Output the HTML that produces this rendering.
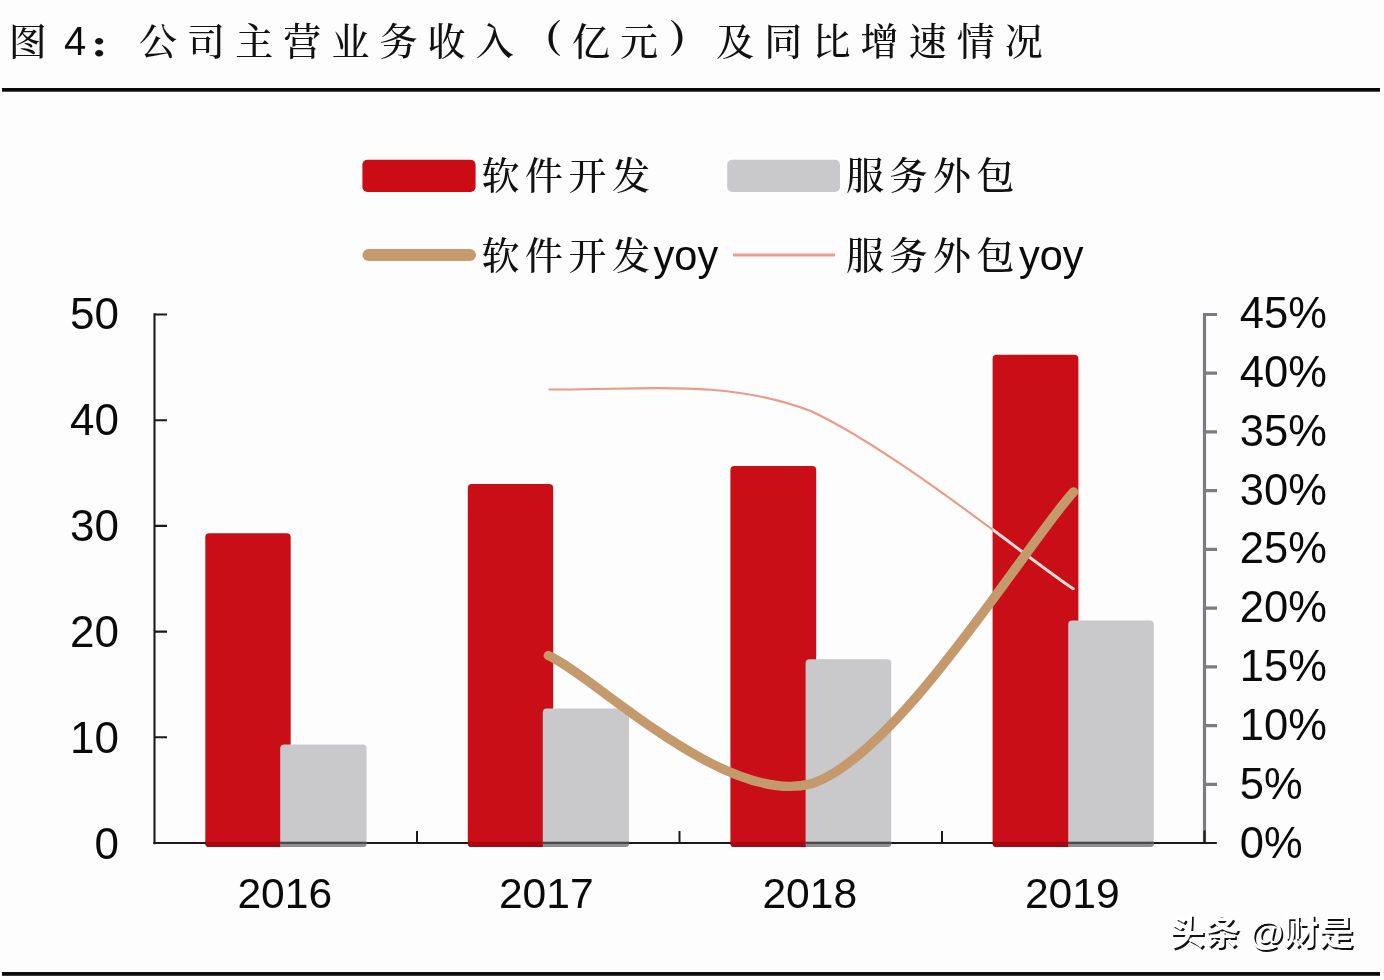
<!DOCTYPE html>
<html lang="zh-CN">
<head>
<meta charset="utf-8">
<title>图 4：公司主营业务收入（亿元）及同比增速情况</title>
<style>
html,body{margin:0;padding:0;background:#fefdfe;}
body{width:1384px;height:980px;overflow:hidden;position:relative;}
svg{position:absolute;left:0;top:0;display:block;}
.cjk{font-family:"Liberation Serif","Noto Serif CJK SC",serif;font-weight:500;fill:#111;}
.lat{font-family:"Liberation Sans","Noto Sans CJK SC",sans-serif;fill:#0a0a0a;}
.ax{font-family:"Liberation Sans",sans-serif;font-size:44px;fill:#0a0a0a;}
</style>
</head>
<body>
<svg width="1384" height="980" viewBox="0 0 1384 980">
<defs>
<clipPath id="redclip"><rect x="992.6" y="354.7" width="85.8" height="492"/></clipPath>
</defs>
<rect x="0" y="0" width="1384" height="980" fill="#fefdfe"/>

<!-- title -->
<g id="title">
<text class="cjk" x="8.7" y="54.7" font-size="38">图</text>
<text class="lat" x="63.9" y="55" font-size="40">4</text>
<text class="cjk" transform="translate(87.8,57.4) scale(1,0.8)" font-size="40" style="font-weight:900">：</text>
<text class="cjk" x="139" y="54.7" font-size="38" letter-spacing="10.1">公司主营业务收入<tspan style="font-weight:900" dy="-3" dx="0.5">（</tspan><tspan dy="3" dx="-0.5">亿元</tspan><tspan style="font-weight:900" dy="-3" dx="0.5">）</tspan><tspan dy="3" dx="-0.5">及同比增速情况</tspan></text>
</g>
<rect x="2" y="88" width="1378" height="3.7" fill="#0a0a0a"/>
<rect x="2" y="972" width="1378" height="3.8" fill="#0a0a0a"/>

<!-- legend -->
<g id="legend">
<rect x="362.4" y="159.7" width="113.2" height="32.2" rx="5" fill="#cb0c15"/>
<text class="cjk" x="481.5" y="188.5" font-size="38" letter-spacing="5.5">软件开发</text>
<rect x="727.2" y="159.7" width="112.8" height="32.2" rx="5" fill="#c9c8ca"/>
<text class="cjk" x="846" y="188.5" font-size="38" letter-spacing="5.5">服务外包</text>
<line x1="368.5" y1="255" x2="470" y2="255" stroke="#c59b6d" stroke-width="12" stroke-linecap="round"/>
<text class="cjk" x="481.5" y="268.5" font-size="38" letter-spacing="5.5">软件开发</text>
<text class="lat" font-size="41.5" transform="translate(653.6,269.6) scale(1,1.045)">yoy</text>
<line x1="733" y1="255" x2="835" y2="255" stroke="#ee9e88" stroke-width="2.8"/>
<text class="cjk" x="846" y="268.5" font-size="38" letter-spacing="5.5">服务外包</text>
<text class="lat" font-size="41.5" transform="translate(1019,269.6) scale(1,1.045)">yoy</text>
</g>

<!-- bars -->
<g id="bars">
<rect x="205.3" y="533.2" width="85.4" height="313.8" rx="4" fill="#c90e17"/>
<rect x="280.2" y="744.5" width="86.4" height="102.5" rx="4" fill="#c9c8ca"/>
<rect x="467.8" y="483.9" width="85.4" height="363.1" rx="4" fill="#c90e17"/>
<rect x="542.8" y="708.5" width="86.2" height="138.5" rx="4" fill="#c9c8ca"/>
<rect x="730.4" y="465.9" width="85.8" height="381.1" rx="4" fill="#c90e17"/>
<rect x="805.6" y="659.3" width="85.6" height="187.7" rx="4" fill="#c9c8ca"/>
<rect x="992.6" y="354.7" width="85.8" height="492.3" rx="4" fill="#c90e17"/>
<rect x="1068.2" y="620.6" width="85.6" height="226.4" rx="4" fill="#c9c8ca"/>
</g>

<!-- axes -->
<g id="raxis" stroke="#7b7b80" stroke-width="3.2" fill="none">
<path d="M1204.5 312.9V843.0"/>
<path d="M1204.5 314.5h12.5M1204.5 373.2h12.5M1204.5 431.9h12.5M1204.5 490.7h12.5M1204.5 549.4h12.5M1204.5 608.1h12.5M1204.5 666.8h12.5M1204.5 725.6h12.5M1204.5 784.3h12.5"/>
</g>
<g id="axes" stroke="#1a1a1a" stroke-width="2.1" fill="none">
<path d="M154.5 313.3V844.2"/>
<path d="M153.3 843.0H1216.8"/>
<path d="M154.5 314.5h12.5M154.5 420.2h12.5M154.5 525.9h12.5M154.5 631.6h12.5M154.5 737.3h12.5M154.5 843.0h12.5"/>
<path d="M417 843.0v-12M679.5 843.0v-12M942 843.0v-12M1204.5 843.0v-12.5" stroke-width="2"/>
</g>
<g id="strips">
<path d="M205.3 841.8H280.5V847.0H208.8Q205.3 847.0 205.3 843.5Z" fill="#a3090f"/>
<path d="M280.2 841.8H366.6V843.5Q366.6 847.0 363.1 847.0H280.2Z" fill="#8f8f92"/>
<rect x="280.2" y="841.8" width="86.4" height="2.2" fill="#4a4a4c"/>
<path d="M467.8 841.8H543.0999999999999V847.0H471.3Q467.8 847.0 467.8 843.5Z" fill="#a3090f"/>
<path d="M542.8 841.8H629.0V843.5Q629.0 847.0 625.5 847.0H542.8Z" fill="#8f8f92"/>
<rect x="542.8" y="841.8" width="86.2" height="2.2" fill="#4a4a4c"/>
<path d="M730.4 841.8H805.9V847.0H733.9Q730.4 847.0 730.4 843.5Z" fill="#a3090f"/>
<path d="M805.6 841.8H891.2V843.5Q891.2 847.0 887.7 847.0H805.6Z" fill="#8f8f92"/>
<rect x="805.6" y="841.8" width="85.6" height="2.2" fill="#4a4a4c"/>
<path d="M992.6 841.8H1068.5V847.0H996.1Q992.6 847.0 992.6 843.5Z" fill="#a3090f"/>
<path d="M1068.2 841.8H1153.8V843.5Q1153.8 847.0 1150.3 847.0H1068.2Z" fill="#8f8f92"/>
<rect x="1068.2" y="841.8" width="85.6" height="2.2" fill="#4a4a4c"/>
</g>

<!-- lines -->
<g id="lines" fill="none" stroke-linejoin="round">
<path id="pink" d="M548.5 389.5C636 390.8 723.25 377.5 810.75 411C898.25 452 1029.7 560.2 1073.2 588.7" stroke="#ec9a86" stroke-width="2.1"/>
<path d="M548.5 389.5C636 390.8 723.25 377.5 810.75 411C898.25 452 1029.7 560.2 1073.2 588.7" stroke="#fbdcd6" stroke-width="3" stroke-linecap="round" clip-path="url(#redclip)"/>
<path id="tan" d="M548.25 655.5C592 674 723.25 806 810.75 783.9C898.25 756.5 1029.5 539.4 1073.5 492" stroke="#c49a6c" stroke-width="9.4" stroke-linecap="round"/>
</g>

<!-- axis labels -->
<g id="llabels" class="ax" text-anchor="end">
<text x="119" y="328.9">50</text>
<text x="119" y="435.0">40</text>
<text x="119" y="541.0">30</text>
<text x="119" y="647.1">20</text>
<text x="119" y="753.2">10</text>
<text x="119" y="859.4">0</text>
</g>
<g id="rlabels" class="ax">
<text x="1239.8" y="327.7" font-size="43.5">45%</text>
<text x="1239.8" y="386.6" font-size="43.5">40%</text>
<text x="1239.8" y="445.6" font-size="43.5">35%</text>
<text x="1239.8" y="504.5" font-size="43.5">30%</text>
<text x="1239.8" y="563.4" font-size="43.5">25%</text>
<text x="1239.8" y="622.3" font-size="43.5">20%</text>
<text x="1239.8" y="681.3" font-size="43.5">15%</text>
<text x="1239.8" y="740.2" font-size="43.5">10%</text>
<text x="1239.8" y="799.1" font-size="43.5">5%</text>
<text x="1239.8" y="858.1" font-size="43.5">0%</text>
</g>
<g id="xlabels" class="ax" text-anchor="middle" style="font-size:42.6px">
<text x="284.8" y="908.3">2016</text>
<text x="546.3" y="908.3">2017</text>
<text x="809.8" y="908.3">2018</text>
<text x="1072.3" y="908.3">2019</text>
</g>

<!-- watermark -->
<g id="wm" font-family="'Liberation Sans','Noto Sans CJK SC',sans-serif" font-size="35" font-weight="700">
<text x="1171.5" y="946.5" fill="#111">头条 @财是</text>
<text x="1169.7" y="944.7" fill="#ffffff">头条 @财是</text>
</g>
</svg>
</body>
</html>
